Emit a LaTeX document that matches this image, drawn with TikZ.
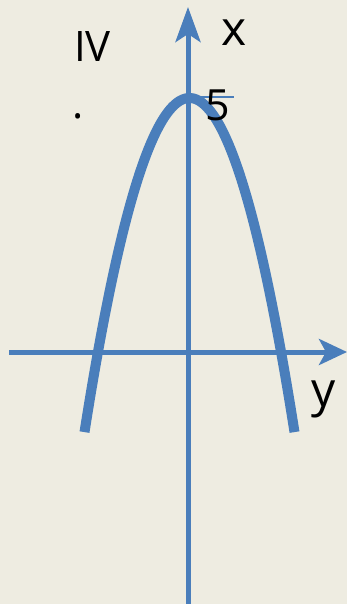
\documentclass[tikz,border=0pt]{standalone}
\usepackage{fontspec}
\setmainfont{Open Sans}
\usetikzlibrary{arrows.meta}
\definecolor{bg}{HTML}{EEECE1}
\definecolor{ax}{HTML}{4A7EBB}
\tikzset{
  axisline/.style={draw=ax, line width=5pt},
  curveline/.style={draw=ax, line width=10pt},
  lbl/.style={inner sep=0pt, anchor=base, text=black},
}
\begin{document}
\begin{tikzpicture}[x=1pt,y=-1pt]
\useasboundingbox[fill=bg] (0,0) rectangle (347,604);
\coordinate (vb) at (188,604);
\coordinate (vt) at (188,7);
\coordinate (hl) at (9,352);
\coordinate (hr) at (347,352);
\coordinate (t1) at (200,97);
\coordinate (t2) at (234,97);
\draw[axisline, -{Stealth[length=35pt, width=25pt, inset=8pt]}] (vb) -- (vt);
\draw[axisline, -{Stealth[length=28pt, width=26pt, inset=7pt]}] (hl) -- (hr);
\draw[curveline] plot[domain=-105:105, samples=80, smooth] ({189.5+\x},{98+0.0303*\x*\x});
\draw[draw=ax, line width=1.5pt] (t1) -- (t2);
\node[lbl, font=\fontsize{42}{44}\selectfont] (iv) at (92.5,62) {IV};
\node[lbl, font=\fontsize{42}{44}\selectfont] (dot) at (78,119) {.};
\node[lbl, font=\fontsize{48}{50}\selectfont] (xl) at (234,46) {x};
\node[lbl, font=\fontsize{43}{45}\selectfont] (five) at (218,121) {5};
\node[lbl, font=\fontsize{48}{50}\selectfont] (yl) at (324,406) {y};
\end{tikzpicture}
\end{document}
